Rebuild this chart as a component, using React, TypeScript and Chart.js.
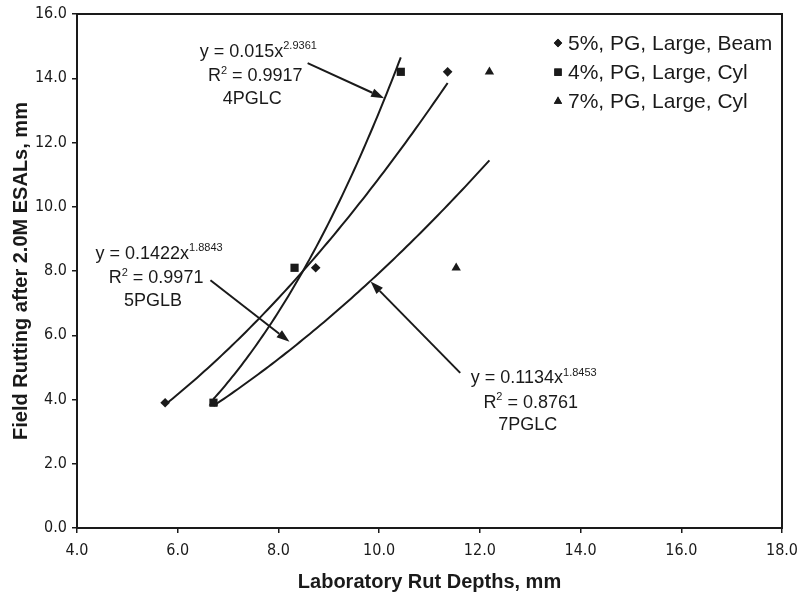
import React, { useEffect, useRef } from "react";
import { Chart, registerables } from "chart.js";
import { drawPoint } from "chart.js/helpers";

Chart.register(...registerables);

// Measured rut depths: laboratory (x) vs field after 2.0M ESALs (y), in mm
const seriesNames = ["5%, PG, Large, Beam", "4%, PG, Large, Cyl", "7%, PG, Large, Cyl"];
const pointStyles = ["rectRot", "rect", "triangle"];
const pointSizes = [4.8, 5.8, 5.4];

const beamLab = [5.75, 8.74, 11.36];
const beamField = [3.9, 8.1, 14.2];
const cyl4Lab = [6.71, 8.32, 10.43];
const cyl4Field = [3.9, 8.1, 14.2];
const cyl7Lab = [6.71, 11.53, 12.19];
const cyl7Field = [3.9, 8.1, 14.2];

// Power trendlines y = a * x^b for each series
const fitNames = ["5PGLB", "4PGLC", "7PGLC"];
const fitCoef = [0.1422, 0.015, 0.1134];
const fitExp = [1.8843, 2.9361, 1.8453];
const fitR2 = [0.9971, 0.9917, 0.8761];

// Callout placement (data units): label block centre, arrow tail, arrow tip
const noteCenterX = [5.57, 7.54, 13.01];
const noteCenterY = [7.82, 14.11, 3.95];
const arrowFromX = [6.65, 8.58, 11.61];
const arrowFromY = [7.71, 14.47, 4.83];
const arrowToX = [8.22, 10.1, 9.83];
const arrowToY = [5.8, 13.38, 7.67];

const xTicks = [4, 6, 8, 10, 12, 14, 16, 18];
const yTicks = [0, 2, 4, 6, 8, 10, 12, 14, 16];

const FAMILY = "'Liberation Sans', Arial, sans-serif";
const NARROW = "'Liberation Sans Narrow', 'Arial Narrow', 'DejaVu Sans Condensed', sans-serif";
const INK = "#1a1a1a";

const labs = [beamLab, cyl4Lab, cyl7Lab];
const fields = [beamField, cyl4Field, cyl7Field];

function trendPoints(i: number) {
  const xs = labs[i];
  const lo = Math.min(...xs);
  const hi = Math.max(...xs);
  const pts: { x: number; y: number }[] = [];
  const n = 80;
  for (let k = 0; k <= n; k++) {
    const xv = lo + ((hi - lo) * k) / n;
    pts.push({ x: xv, y: fitCoef[i] * Math.pow(xv, fitExp[i]) });
  }
  return pts;
}

type Part = { t: string; sup?: boolean };

function drawRich(ctx: CanvasRenderingContext2D, parts: Part[], cx: number, cy: number, size: number) {
  const base = `${size}px ${FAMILY}`;
  const small = `${Math.round(size * 0.62)}px ${FAMILY}`;
  let w = 0;
  for (const p of parts) {
    ctx.font = p.sup ? small : base;
    w += ctx.measureText(p.t).width;
  }
  let xx = cx - w / 2;
  const baseline = cy + size * 0.36;
  ctx.textAlign = "left";
  ctx.textBaseline = "alphabetic";
  for (const p of parts) {
    ctx.font = p.sup ? small : base;
    ctx.fillText(p.t, xx, p.sup ? baseline - size * 0.42 : baseline);
    xx += ctx.measureText(p.t).width;
  }
}

function drawArrow(ctx: CanvasRenderingContext2D, x1: number, y1: number, x2: number, y2: number) {
  const ang = Math.atan2(y2 - y1, x2 - x1);
  const head = 13;
  const half = 4.5;
  const c = Math.cos(ang);
  const s = Math.sin(ang);
  ctx.beginPath();
  ctx.moveTo(x1, y1);
  ctx.lineTo(x2 - head * c, y2 - head * s);
  ctx.stroke();
  ctx.beginPath();
  ctx.moveTo(x2, y2);
  ctx.lineTo(x2 - head * c + half * s, y2 - head * s - half * c);
  ctx.lineTo(x2 - head * c - half * s, y2 - head * s + half * c);
  ctx.closePath();
  ctx.fill();
}

const framePlugin = {
  id: "frame",
  beforeDatasetsDraw(chart: any) {
    const { ctx, chartArea: a } = chart;
    ctx.save();
    ctx.strokeStyle = INK;
    ctx.lineWidth = 2;
    ctx.strokeRect(a.left, a.top, a.right - a.left, a.bottom - a.top);
    ctx.restore();
  },
};

const notesPlugin = {
  id: "notes",
  afterDatasetsDraw(chart: any) {
    const { ctx, chartArea: a } = chart;
    const xs = chart.scales.x;
    const ys = chart.scales.y;
    ctx.save();
    ctx.fillStyle = INK;
    ctx.strokeStyle = INK;
    ctx.lineWidth = 2;

    // fit equations with arrows
    for (let i = 0; i < fitNames.length; i++) {
      const cx = xs.getPixelForValue(noteCenterX[i]);
      const cy = ys.getPixelForValue(noteCenterY[i]);
      const size = 18;
      drawRich(ctx, [{ t: `y = ${fitCoef[i]}x` }, { t: `${fitExp[i]}`, sup: true }], cx + 3, cy - 24.5, size);
      drawRich(ctx, [{ t: "R" }, { t: "2", sup: true }, { t: ` = ${fitR2[i]}` }], cx, cy, size);
      drawRich(ctx, [{ t: fitNames[i] }], cx - 3, cy + 22.5, size);
      drawArrow(
        ctx,
        xs.getPixelForValue(arrowFromX[i]),
        ys.getPixelForValue(arrowFromY[i]),
        xs.getPixelForValue(arrowToX[i]),
        ys.getPixelForValue(arrowToY[i])
      );
    }

    // legend in the upper right of the plot
    const lx = a.right - 224;
    for (let i = 0; i < seriesNames.length; i++) {
      const ly = a.top + 29 + i * 29.2;
      ctx.fillStyle = INK;
      drawPoint(ctx, { pointStyle: pointStyles[i] as any, radius: pointSizes[i] - 0.6, borderWidth: 0, rotation: 0 } as any, lx, ly);
      ctx.fill();
      ctx.font = `21px ${FAMILY}`;
      ctx.textAlign = "left";
      ctx.textBaseline = "middle";
      ctx.fillText(seriesNames[i], lx + 10, ly + 1);
    }

    // axis titles
    ctx.font = `bold 20px ${FAMILY}`;
    ctx.textAlign = "center";
    ctx.textBaseline = "middle";
    ctx.fillText("Laboratory Rut Depths, mm", (a.left + a.right) / 2, 582);
    ctx.translate(21, (a.top + a.bottom) / 2);
    ctx.rotate(-Math.PI / 2);
    ctx.fillText("Field Rutting after 2.0M ESALs, mm", 0, 0);
    ctx.restore();
  },
};

export default function App() {
  const ref = useRef<HTMLCanvasElement | null>(null);

  useEffect(() => {
    if (!ref.current) return;
    const scatterSets = seriesNames.map((name, i) => ({
      type: "scatter" as const,
      label: name,
      data: labs[i].map((v, k) => ({ x: v, y: fields[i][k] })),
      pointStyle: pointStyles[i],
      pointRadius: pointSizes[i],
      pointBackgroundColor: INK,
      pointBorderColor: INK,
      pointBorderWidth: 0,
      showLine: false,
      order: 0,
    }));
    const trendSets = fitNames.map((name, i) => ({
      type: "line" as const,
      label: name,
      data: trendPoints(i),
      borderColor: INK,
      borderWidth: 2,
      pointRadius: 0,
      tension: 0,
      fill: false,
      order: 1,
    }));

    const tickFont = { family: NARROW, size: 16 };
    const chart = new Chart(ref.current, {
      type: "scatter",
      data: { datasets: [...trendSets, ...scatterSets] as any },
      options: {
        animation: false,
        responsive: false,
        devicePixelRatio: 1,
        layout: { padding: { top: 14, right: 18, left: 0, bottom: 0 } },
        plugins: { legend: { display: false }, tooltip: { enabled: false } },
        scales: {
          x: {
            type: "linear",
            min: xTicks[0],
            max: xTicks[xTicks.length - 1],
            afterBuildTicks: (s: any) => {
              s.ticks = xTicks.map((v) => ({ value: v }));
            },
            afterFit: (s: any) => {
              s.height = 75;
              s.paddingLeft = 0;
              s.paddingRight = 0;
            },
            ticks: {
              color: INK,
              font: tickFont,
              padding: 8,
              maxRotation: 0,
              callback: (v: any) => Number(v).toFixed(1),
            },
            grid: { drawOnChartArea: false, drawTicks: true, tickLength: 5, color: INK, lineWidth: 1.5 },
            border: { display: false },
          },
          y: {
            type: "linear",
            min: yTicks[0],
            max: yTicks[yTicks.length - 1],
            afterBuildTicks: (s: any) => {
              s.ticks = yTicks.map((v) => ({ value: v }));
            },
            afterFit: (s: any) => {
              s.width = 77;
              s.paddingTop = 0;
              s.paddingBottom = 0;
            },
            ticks: {
              color: INK,
              font: tickFont,
              padding: 5,
              callback: (v: any) => Number(v).toFixed(1),
            },
            grid: { drawOnChartArea: false, drawTicks: true, tickLength: 5, color: INK, lineWidth: 1.5 },
            border: { display: false },
          },
        },
      },
      plugins: [framePlugin, notesPlugin],
    });
    return () => chart.destroy();
  }, []);

  return (
    <div style={{ position: "fixed", left: 0, top: 0, width: 800, height: 603, background: "#fff" }}>
      <canvas ref={ref} width={800} height={603} />
    </div>
  );
}
